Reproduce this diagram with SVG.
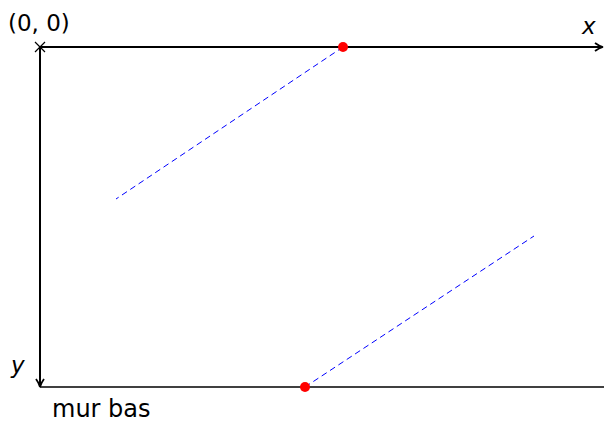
<svg xmlns="http://www.w3.org/2000/svg" width="604" height="422" viewBox="0 0 604 422">
<defs>
<style>
.axis{stroke:#000;stroke-width:2;fill:none}
.wall{stroke:#000;stroke-width:1.3;fill:none}
.traj{stroke:#00f;stroke-width:1;stroke-dasharray:6 4;fill:none}
.pt{fill:#f00}
text{font-family:"DejaVu Sans","Liberation Sans",sans-serif;fill:#000}
.it{font-style:italic}
</style>
<marker id="arr" viewBox="0 0 10 10" refX="8" refY="5" markerWidth="10" markerHeight="10" markerUnits="userSpaceOnUse" orient="auto">
<path d="M1,1 Q5,4 9,5 Q5,6 1,9" fill="none" stroke="#000" stroke-width="1.8"/>
</marker>
</defs>
<g id="connectors">
<line class="wall" x1="40" y1="387" x2="604" y2="387"/>
<line class="axis" x1="40" y1="47" x2="602" y2="47" marker-end="url(#arr)"/>
<line class="axis" x1="40" y1="47" x2="40" y2="386" marker-end="url(#arr)"/>
<line class="traj" x1="343" y1="47" x2="116" y2="199"/>
<line class="traj" x1="305" y1="387" x2="534" y2="236"/>
</g>
<g id="origin">
<path d="M35,42 L45,52 M45,42 L35,52" stroke="#000" stroke-width="1.2"/>
<text x="8" y="31" font-size="23">(0, 0)</text>
</g>
<g id="xlabel"><text class="it" x="582" y="34" font-size="23">x</text></g>
<g id="ylabel"><text class="it" x="11" y="373" font-size="23">y</text></g>
<g id="wallLabel"><text x="52" y="417" font-size="24">mur bas</text></g>
<g id="p1"><circle class="pt" cx="343" cy="47" r="5"/></g>
<g id="p2"><circle class="pt" cx="305" cy="387" r="5"/></g>
</svg>
